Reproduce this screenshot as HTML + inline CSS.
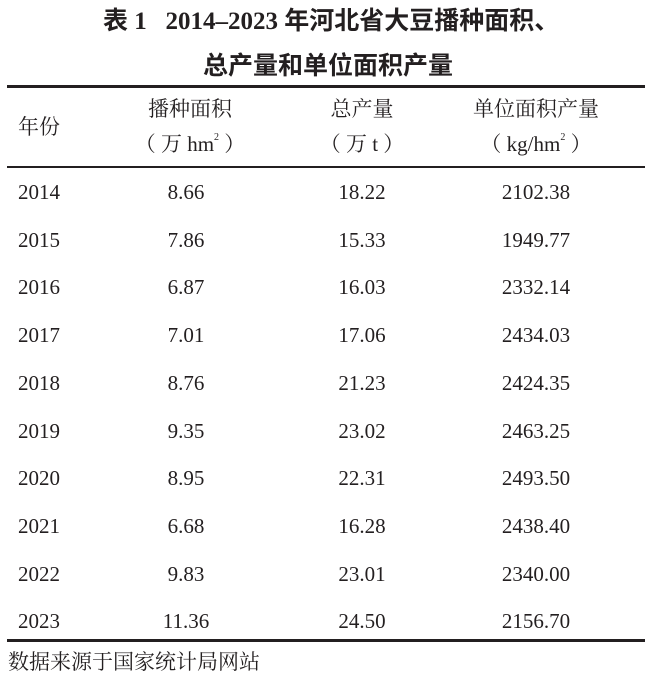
<!DOCTYPE html>
<html><head><meta charset="utf-8"><style>
body{margin:0;width:650px;height:680px;background:#fff;position:relative;overflow:hidden;color:#231f20;font-family:"Liberation Serif","Noto Serif CJK SC",serif;}
.t{position:absolute;white-space:nowrap;line-height:1;}
.c{transform:translateX(-50%);}
.n{font-size:21px;}
.h{font-size:21px;}
.line{position:absolute;left:7px;width:638px;background:#231f20;}
.tt{font-size:25px;font-weight:bold;font-family:"Liberation Serif","Noto Sans CJK SC",sans-serif;}
sup{font-size:10px;vertical-align:top;position:relative;top:-1px;}
</style></head><body>
<div class="t tt" style="left:103px;top:9px;">表 1&nbsp;&nbsp;&nbsp;2014–2023 年河北省大豆播种面积、</div>
<div class="t tt" style="left:203px;top:54px;">总产量和单位面积产量</div>
<div class="line" style="top:85px;height:3px;"></div>
<div class="t h" style="left:18px;top:117px;">年份</div>
<div class="t h c" style="left:190px;top:99px;">播种面积</div>
<div class="t h c" style="left:190px;top:134px;">（ 万 hm<sup>2</sup> ）</div>
<div class="t h c" style="left:362px;top:99px;">总产量</div>
<div class="t h c" style="left:362px;top:134px;">（ 万 t ）</div>
<div class="t h c" style="left:536px;top:99px;">单位面积产量</div>
<div class="t h c" style="left:536px;top:134px;">（ kg/hm<sup>2</sup> ）</div>
<div class="line" style="top:166px;height:1.5px;"></div>
<div id="rows"></div>
<div class="line" style="top:639px;height:3px;"></div>
<div class="t h" style="left:8px;top:652px;">数据来源于国家统计局网站</div>
<script>
var d=[["2014","8.66","18.22","2102.38"],["2015","7.86","15.33","1949.77"],["2016","6.87","16.03","2332.14"],["2017","7.01","17.06","2434.03"],["2018","8.76","21.23","2424.35"],["2019","9.35","23.02","2463.25"],["2020","8.95","22.31","2493.50"],["2021","6.68","16.28","2438.40"],["2022","9.83","23.01","2340.00"],["2023","11.36","24.50","2156.70"]];
var h="";
d.forEach(function(r,i){var y=182+i*47.7;
h+='<div class="t n" style="left:18px;top:'+y+'px">'+r[0]+'</div>';
h+='<div class="t n c" style="left:186px;top:'+y+'px">'+r[1]+'</div>';
h+='<div class="t n c" style="left:362px;top:'+y+'px">'+r[2]+'</div>';
h+='<div class="t n c" style="left:536px;top:'+y+'px">'+r[3]+'</div>';});
document.getElementById("rows").innerHTML=h;
</script>
</body></html>
